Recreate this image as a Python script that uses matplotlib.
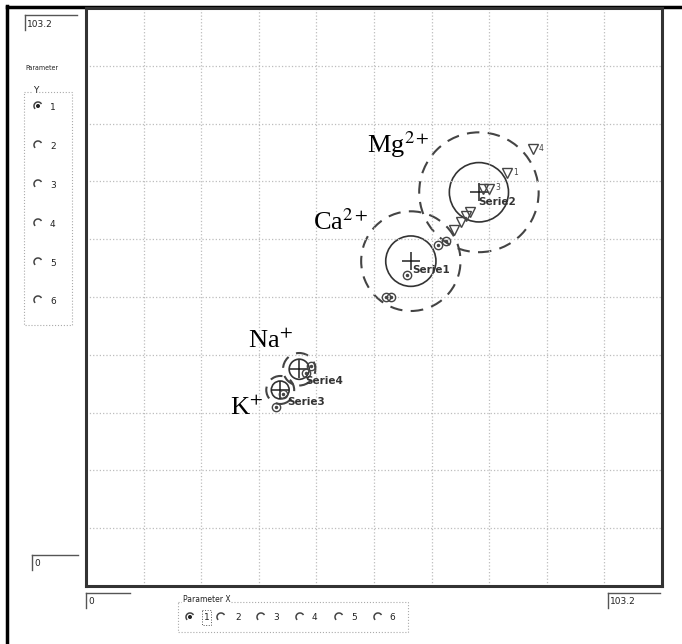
import matplotlib
matplotlib.use("Agg")
import matplotlib.pyplot as plt
from matplotlib.patches import Circle, Arc, Rectangle
import numpy as np

# ---- data ----
axis_max = 103.2
series_names = ["Serie1", "Serie2", "Serie3", "Serie4"]
ion_labels = ["Ca$^{2+}$", "Mg$^{2+}$", "K$^{+}$", "Na$^{+}$"]
center_x = [58.2, 70.4, 34.8, 38.2]
center_y = [58.0, 70.3, 35.0, 38.7]
inner_r = [4.5, 5.3, 1.6, 1.8]
outer_r = [8.9, 10.7, 2.5, 2.9]

ca_x = [63.1, 64.5, 57.5, 53.8, 54.6]
ca_y = [60.9, 61.6, 55.5, 51.6, 51.6]
mg_x = [80.1, 75.4, 71.1, 72.2, 68.8, 68.1, 67.2, 65.9]
mg_y = [78.0, 73.7, 70.9, 70.9, 66.8, 66.1, 65.0, 63.6]
mg_ids = ["4", "1", "", "3", "", "", "", ""]
k_x = [34.0, 35.3]
k_y = [32.0, 34.2]
na_x = [39.5, 40.3]
na_y = [38.0, 39.2]

radio_labels = ["1", "2", "3", "4", "5", "6"]

# ---- figure ----
W, H = 682, 644
fig = plt.figure(figsize=(W / 100, H / 100), dpi=100)
gui = fig.add_axes([0, 0, 1, 1])
gui.set_xlim(0, W)
gui.set_ylim(H, 0)
gui.axis("off")

ax = fig.add_axes([86 / W, (H - 586) / H, 576 / W, 578 / H])
ax.set_xlim(0, axis_max)
ax.set_ylim(0, axis_max)
ticks = np.linspace(0, axis_max, 11)
ax.set_xticks(ticks)
ax.set_yticks(ticks)
ax.tick_params(length=0, labelbottom=False, labelleft=False)
ax.grid(True, linestyle=":", color="#bdbdbd", linewidth=0.9)
for sp in ax.spines.values():
    sp.set_color("#333333")
    sp.set_linewidth(2.2)

# circles, mean crosses, series names
name_off = [(1, -9), (-1, -10), (7, -12), (6, -12)]
ion_off = [(-98, 31), (-112, 39), (-50, -25), (-51, 21)]
for i in range(len(series_names)):
    ax.add_patch(Circle((center_x[i], center_y[i]), inner_r[i], fill=False,
                        ec="#333333", lw=1.2))
    ax.add_patch(Circle((center_x[i], center_y[i]), outer_r[i], fill=False,
                        ec="#444444", lw=1.5, linestyle=(0, (6, 4))))
    ax.plot(center_x[i], center_y[i], marker="+", ms=13, mew=1.1, color="#222222")
    ax.annotate(series_names[i], (center_x[i], center_y[i]), xytext=name_off[i],
                textcoords="offset pixels", fontsize=7.5, fontweight="bold",
                color="#333333", va="center")
    ax.annotate(ion_labels[i], (center_x[i], center_y[i]), xytext=ion_off[i],
                textcoords="offset pixels", fontsize=19, family="Liberation Serif",
                math_fontfamily="stix", va="baseline", ha="left", color="black")

# points
for xs, ys in [(ca_x, ca_y), (k_x, k_y), (na_x, na_y)]:
    ax.plot(xs, ys, "o", ms=6, mfc="none", mec="#444444", mew=1.0)
    ax.plot(xs, ys, ".", ms=3, color="#444444")
ax.plot(mg_x, mg_y, "v", ms=7, mfc="none", mec="#444444", mew=1.0)
for x, y, t in zip(mg_x, mg_y, mg_ids):
    if t:
        ax.annotate(t, (x, y), xytext=(6, 1), textcoords="offset pixels",
                    fontsize=5.5, color="#444444", va="center")

# ---- window chrome ----
gui.plot([7, 7], [6, H], color="black", lw=2.5)
gui.plot([7, W], [7, 7], color="black", lw=2.5)


def bracket(x0, x1, y, text):
    gui.plot([x0, x1], [y, y], color="#555555", lw=1)
    gui.plot([x0, x0], [y, y + 15], color="#555555", lw=1)
    gui.text(x0 + 2, y + 9, text, fontsize=6.5, va="center", ha="left", color="#222222")


bracket(25, 77, 15, "103.2")
bracket(32, 78, 555, "0")
bracket(86, 130, 593, "0")
bracket(608, 660, 593, "103.2")

gui.text(25, 68, "Parameter", fontsize=5, va="center", ha="left", color="#222222",
         fontstretch="condensed")


def radio(x, y, selected):
    gui.add_patch(Arc((x, y), 8, 8, theta1=135, theta2=330, color="#444444", lw=1.1))
    if selected:
        gui.add_patch(Circle((x, y), 1.3, color="#222222"))


# Y group box
gui.add_patch(Rectangle((24, 92), 48, 233, fill=False, ec="#aaaaaa", lw=0.8, ls=":"))
gui.text(33, 90, "Y", fontsize=6.5, va="center", ha="left", color="#222222",
         bbox=dict(fc="white", ec="none", pad=0.5))
for j, lab in enumerate(radio_labels):
    y = [106, 145, 184, 223, 262, 300][j]
    radio(38, y, j == 0)
    gui.text(50, y + 1, lab, fontsize=6.5, va="center", ha="left", color="#222222")

# X group box
gui.add_patch(Rectangle((178, 602), 230, 30, fill=False, ec="#aaaaaa", lw=0.8, ls=":"))
gui.text(183, 600, "Parameter X", fontsize=5.5, va="center", ha="left", color="#222222",
         bbox=dict(fc="white", ec="none", pad=0.5))
rx = [190, 221, 261, 300, 339, 378]
lx = [204, 235, 273, 312, 351, 389]
for j, lab in enumerate(radio_labels):
    radio(rx[j], 617, j == 0)
    gui.text(lx[j], 618, lab, fontsize=6.5, va="center", ha="left", color="#222222")
gui.add_patch(Rectangle((lx[0] - 2, 610), 9, 15, fill=False, ec="#555555", lw=0.7, ls=":"))

fig.savefig("out.png", dpi=100)
